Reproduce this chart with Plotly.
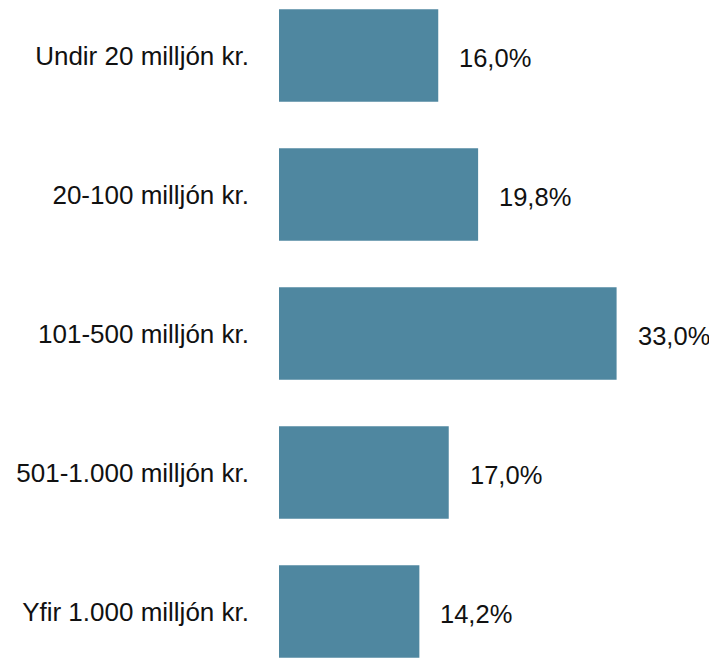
import plotly.graph_objects as go

categories = ["Undir 20 milljón kr.", "20-100 milljón kr.", "101-500 milljón kr.",
              "501-1.000 milljón kr.", "Yfir 1.000 milljón kr."]
values = [16.0, 19.8, 33.0, 17.0, 14.2]
value_labels = ["16,0%", "19,8%", "33,0%", "17,0%", "14,2%"]

fig = go.Figure(go.Bar(
    x=values, y=categories, orientation="h",
    marker=dict(color="#4f87a0", line=dict(width=0)),
    width=0.665, hoverinfo="skip",
))

for c, v, t in zip(categories, values, value_labels):
    fig.add_annotation(x=v, y=c, text=t, showarrow=False, xanchor="left",
                       xshift=19, yshift=-2,
                       font=dict(family="Liberation Sans, Arial", size=25.5, color="#111111"))

fig.update_layout(
    width=709, height=650,
    margin=dict(l=271, r=0, t=0, b=0),
    plot_bgcolor="white", paper_bgcolor="white",
    showlegend=False,
    font=dict(family="Liberation Sans, Arial", size=25.5, color="#111111"),
    xaxis=dict(range=[0.82, 42.57], visible=False, fixedrange=True),
    yaxis=dict(range=[4.3345, -0.3417], showgrid=False, zeroline=False,
               showline=False, ticks="", ticklabelstandoff=29,
               tickfont=dict(size=26), fixedrange=True),
)

fig.write_html("out.html")
